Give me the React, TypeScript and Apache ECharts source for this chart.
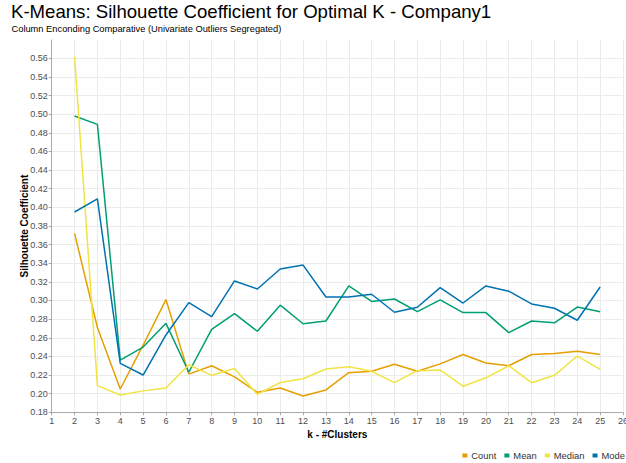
import React, { useEffect, useRef } from "react";
import * as echarts from "echarts";

const kValues = [2, 3, 4, 5, 6, 7, 8, 9, 10, 11, 12, 13, 14, 15, 16, 17, 18, 19, 20, 21, 22, 23, 24, 25];
const countVals = [0.372, 0.271, 0.205, 0.252, 0.301, 0.221, 0.230, 0.218, 0.2015, 0.206, 0.1975, 0.204, 0.2225, 0.224, 0.2315, 0.224, 0.232, 0.242, 0.233, 0.230, 0.242, 0.243, 0.2455, 0.242];
const meanVals = [0.498, 0.489, 0.236, 0.250, 0.2755, 0.223, 0.269, 0.286, 0.267, 0.295, 0.275, 0.278, 0.3156, 0.299, 0.3016, 0.288, 0.3006, 0.287, 0.287, 0.2655, 0.278, 0.276, 0.293, 0.288];
const medianVals = [0.562, 0.2086, 0.1986, 0.203, 0.206, 0.231, 0.2197, 0.227, 0.1993, 0.212, 0.216, 0.2265, 0.229, 0.224, 0.2118, 0.2247, 0.2255, 0.208, 0.217, 0.230, 0.2118, 0.2197, 0.2404, 0.226];
const modeVals = [0.395, 0.409, 0.2326, 0.220, 0.263, 0.2977, 0.2826, 0.321, 0.3124, 0.3338, 0.338, 0.3038, 0.3038, 0.3067, 0.2874, 0.2927, 0.3138, 0.2973, 0.3156, 0.310, 0.2963, 0.2917, 0.2788, 0.3145];

const seriesNames = ["Count", "Mean", "Median", "Mode"];
const seriesColors = ["#E69F00", "#009E73", "#F0E442", "#0072B2"];
const seriesData = [countVals, meanVals, medianVals, modeVals];

export default function App() {
  const ref = useRef<HTMLDivElement>(null);
  useEffect(() => {
    if (!ref.current) return;
    const chart = echarts.init(ref.current, null, { renderer: "svg" });
    const font = "Liberation Sans, Arial, sans-serif";
    chart.setOption({
      animation: false,
      textStyle: { fontFamily: font },
      title: [
        {
          text: "K-Means: Silhouette Coefficient for Optimal K - Company1",
          left: 11,
          top: 2,
          padding: 0,
          textStyle: { fontSize: 18.6, fontWeight: "normal", color: "#000", fontFamily: font },
        },
        {
          text: "Column Enconding Comparative (Univariate Outliers Segregated)",
          left: 11.5,
          top: 24.5,
          padding: 0,
          textStyle: { fontSize: 9.3, fontWeight: "normal", color: "#000", fontFamily: font },
        },
      ],
      legend: {
        right: 1,
        bottom: 3,
        padding: 0,
        itemWidth: 5,
        itemHeight: 4,
        itemGap: 8,
        icon: "rect",
        textStyle: { fontSize: 9.4, color: "#333", fontFamily: font, padding: [0, 0, 0, -1] },
        data: seriesNames,
      },
      grid: { left: 51.7, right: 3, top: 40, bottom: 50.7, containLabel: false, outerBoundsMode: "none" },
      xAxis: {
        type: "value",
        min: 1,
        max: 26,
        interval: 1,
        name: "k - #Clusters",
        nameLocation: "middle",
        nameGap: 17,
        nameMoveOverlap: false,
        nameTextStyle: { fontWeight: "bold", fontSize: 10, color: "#000", fontFamily: font },
        axisLine: { show: true, lineStyle: { color: "#aaa", width: 1 } },
        axisTick: { show: true, length: 3, lineStyle: { color: "#aaa" } },
        axisLabel: { fontSize: 9, color: "#4d4d4d", margin: 4, fontFamily: font },
        splitLine: { show: true, lineStyle: { color: "#ebebeb", width: 1 } },
      },
      yAxis: {
        type: "value",
        min: 0.18,
        max: 0.5796,
        interval: 0.02,
        name: "Silhouette Coefficient",
        nameLocation: "middle",
        nameGap: 22,
        nameMoveOverlap: false,
        nameRotate: 90,
        nameTextStyle: { fontWeight: "bold", fontSize: 10, color: "#000", fontFamily: font },
        axisLine: { show: true, lineStyle: { color: "#aaa", width: 1 } },
        axisTick: { show: true, length: 3, lineStyle: { color: "#aaa" } },
        axisLabel: {
          fontSize: 9,
          color: "#4d4d4d",
          margin: 4,
          fontFamily: font,
          showMaxLabel: false,
          formatter: (v: number) => v.toFixed(2),
        },
        splitLine: { show: true, showMaxLine: false, lineStyle: { color: "#ebebeb", width: 1 } },
      },
      series: seriesNames.map((name, i) => ({
        name,
        type: "line",
        data: kValues.map((k, j) => [k, seriesData[i][j]]),
        showSymbol: false,
        symbol: "none",
        itemStyle: { color: seriesColors[i] },
        lineStyle: { color: seriesColors[i], width: 1.5 },
      })),
    });
    return () => chart.dispose();
  }, []);
  return <div ref={ref} style={{ width: 626, height: 463, position: "absolute", left: 0, top: 0 }} />;
}
